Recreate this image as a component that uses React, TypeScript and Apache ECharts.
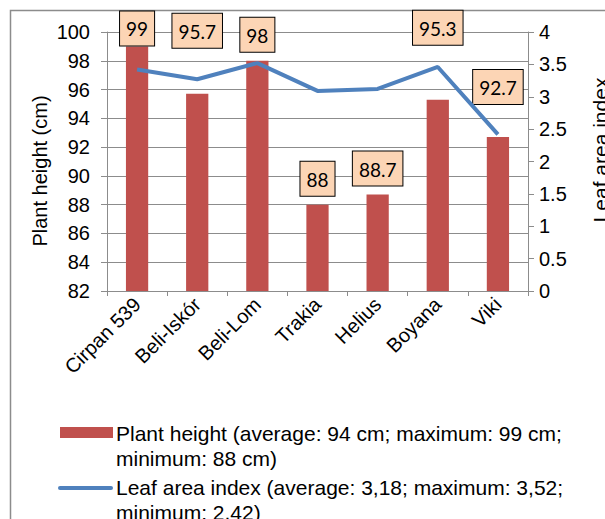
import React, { useEffect, useRef } from "react";
import * as echarts from "echarts";

const categories = ["Cirpan 539", "Beli-Iskór", "Beli-Lom", "Trakia", "Helius", "Boyana", "Viki"];
const plantHeight = [99, 95.7, 98, 88, 88.7, 95.3, 92.7];
const leafAreaIndex = [3.42, 3.27, 3.52, 3.09, 3.12, 3.46, 2.42];
const labelDistances = [1, 46, 9, 9, 9, 55, 33];
const heightTicks = { min: 82, max: 100, interval: 2 };
const laiTicks = { min: 0, max: 4, interval: 0.5 };
const legendNames = [
  ["Plant height (average: 94 cm; maximum: 99 cm;", "minimum: 88 cm)"],
  ["Leaf area index (average: 3,18; maximum: 3,52;", "minimum: 2,42)"],
];

const FONT = "'Liberation Sans', Arial, sans-serif";
const BAR = "#C0504D";
const LINE = "#4F81BD";
const GRID = "#8c8c8c";

export default function App() {
  const ref = useRef<HTMLDivElement>(null);
  useEffect(() => {
    if (!ref.current) return;
    const chart = echarts.init(ref.current, undefined, { renderer: "svg" });
    const legendGraphics: any[] = [
      { type: "rect", shape: { x: 60, y: 427, width: 53, height: 11 }, style: { fill: BAR } },
      { type: "line", shape: { x1: 60, y1: 488, x2: 111, y2: 488 }, style: { stroke: LINE, lineWidth: 4, lineCap: "round" } },
    ];
    legendNames.forEach((lines, i) => {
      lines.forEach((t, j) => {
        legendGraphics.push({
          type: "text",
          x: 116,
          y: 433 + i * 54 + j * 25,
          style: { text: t, font: `21px ${FONT}`, fill: "#000", verticalAlign: "middle", align: "left" },
        });
      });
    });
    chart.setOption({
      animation: false,
      backgroundColor: "#fff",
      grid: { left: 107, right: 77, top: 32, bottom: 228, containLabel: false },
      xAxis: {
        type: "category",
        data: categories,
        axisLine: { lineStyle: { color: GRID, width: 1 } },
        axisTick: { show: true, length: 5, lineStyle: { color: GRID } },
        axisLabel: { rotate: 45, color: "#000", fontFamily: FONT, fontSize: 20, margin: 10, interval: 0 },
      },
      yAxis: [
        {
          type: "value",
          min: heightTicks.min,
          max: heightTicks.max,
          interval: heightTicks.interval,
          axisLine: { show: true, lineStyle: { color: GRID } },
          axisTick: { show: true, length: 6, lineStyle: { color: GRID } },
          axisLabel: { color: "#000", fontFamily: FONT, fontSize: 20, margin: 17 },
          splitLine: { show: true, lineStyle: { color: GRID, width: 1 } },
        },
        {
          type: "value",
          position: "right",
          min: laiTicks.min,
          max: laiTicks.max,
          interval: laiTicks.interval,
          axisLine: { show: true, lineStyle: { color: GRID } },
          axisTick: { show: true, length: 6, lineStyle: { color: GRID } },
          axisLabel: { color: "#000", fontFamily: FONT, fontSize: 20, margin: 11 },
          splitLine: { show: false },
        },
      ],
      series: [
        {
          name: legendNames[0].join(" "),
          type: "bar",
          yAxisIndex: 0,
          barWidth: "37%",
          itemStyle: { color: BAR },
          data: plantHeight.map((v, i) => ({
            value: v,
            label: {
              show: true,
              position: "top",
              distance: labelDistances[i],
              color: "#000",
              fontFamily: "Lato, 'Open Sans', sans-serif",
              fontSize: 19,
              lineHeight: 19,
              backgroundColor: "#FCD5B5",
              borderColor: "#000",
              borderWidth: 1,
              padding: [8, 6, 7, 6],
            },
          })),
          z: 2,
        },
        {
          name: legendNames[1].join(" "),
          type: "line",
          yAxisIndex: 1,
          data: leafAreaIndex,
          showSymbol: false,
          symbol: "none",
          lineStyle: { color: LINE, width: 4 },
          z: 3,
        },
      ],
      graphic: [
        { type: "rect", shape: { x: 10.5, y: 10.5, width: 700, height: 600 }, style: { fill: "none", stroke: GRID, lineWidth: 1.5 }, silent: true },
        {
          type: "text",
          x: 40,
          y: 171,
          rotation: Math.PI / 2,
          style: { text: "Plant height (cm)", font: `20px ${FONT}`, fill: "#000", align: "center", verticalAlign: "middle" },
        },
        {
          type: "text",
          x: 600,
          y: 150,
          rotation: Math.PI / 2,
          style: { text: "Leaf area index", font: `21px ${FONT}`, fill: "#000", align: "center", verticalAlign: "middle" },
        },
        ...legendGraphics,
      ],
    });
    return () => chart.dispose();
  }, []);
  return <div ref={ref} style={{ position: "fixed", left: 0, top: 0, width: 605, height: 519 }} />;
}
